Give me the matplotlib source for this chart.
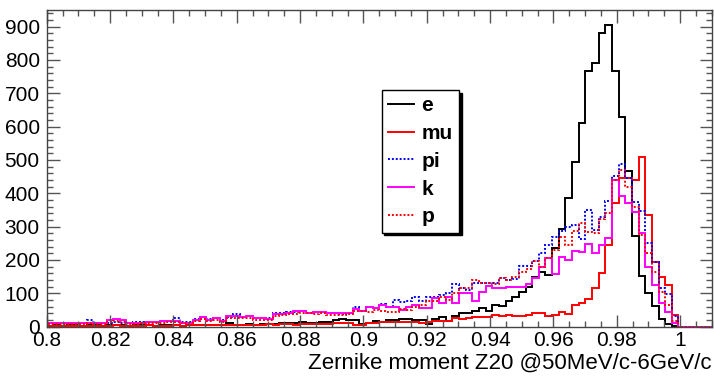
import numpy as np
import matplotlib
matplotlib.use("Agg")
import matplotlib.pyplot as plt
from matplotlib.ticker import MultipleLocator

plt.rcParams['font.family'] = ['Liberation Sans', 'DejaVu Sans']

# histogram binning
x_lo, x_hi, n_bins = 0.8, 1.01, 100

# bin contents
e_counts = [3, 4, 3, 5, 4, 3, 4, 5, 3, 4, 5, 4, 3, 4, 5, 4, 3, 4,
            4, 4, 3, 5, 4, 6, 5, 4, 6, 10, 6, 5, 7, 6, 8, 7, 8, 10, 10,
            12, 15, 10, 10, 15, 15, 20, 22, 20, 20, 8, 12, 18, 15, 20, 20, 22, 22,
            20, 20, 8, 22, 28, 18, 32, 40, 40, 48, 55, 48, 65, 62, 78, 90, 105, 118, 150, 163,
            155, 235, 292, 385, 495, 610, 768, 790, 880, 905, 768, 628, 468, 272, 152, 100,
            62, 22, 8, 3, 0, 0, 0, 0, 0]
mu_counts = [2, 3, 2, 3, 3, 2, 3, 2, 3, 3, 4, 3, 2, 3, 3, 4, 3, 3,
             3, 4, 3, 4, 4, 5, 4, 5, 5, 6, 5, 6, 5, 6, 6, 7, 6, 8, 7,
             5, 8, 8, 8, 8, 8, 10, 10, 10, 5, 5, 12, 12, 15, 15, 15, 15, 15,
             14, 12, 13, 18, 18, 18, 25, 22, 25, 28, 28, 28, 35, 32, 35, 32, 32, 35, 40, 40,
             32, 35, 45, 38, 66, 70, 84, 115, 160, 245, 370, 445, 445, 440, 510, 335,
             195, 150, 125, 35, 0, 0, 0, 0, 0]
pi_counts = [12, 12, 10, 10, 12, 11, 20, 12, 11, 12, 13, 12, 11, 15, 14, 14, 13, 16,
             18, 27, 14, 13, 22, 28, 22, 27, 20, 30, 37, 30, 33, 27, 27, 25, 40, 40, 43,
             45, 48, 42, 45, 45, 42, 40, 38, 42, 58, 48, 58, 55, 68, 58, 80, 75, 78,
             90, 78, 90, 90, 95, 100, 127, 115, 110, 132, 132, 132, 132, 147, 140, 143, 182, 182, 198, 222,
             245, 268, 288, 300, 305, 262, 350, 290, 330, 378, 452, 488, 445, 375, 348, 250,
             195, 115, 98, 32, 0, 0, 0, 0, 0]
k_counts = [12, 12, 12, 11, 10, 12, 12, 11, 10, 20, 22, 20, 12, 12, 12, 14, 15, 17,
            17, 17, 12, 12, 20, 30, 20, 25, 18, 32, 32, 30, 32, 25, 25, 22, 38, 38, 42,
            47, 47, 42, 45, 45, 40, 40, 40, 40, 52, 48, 60, 55, 65, 58, 58, 50, 58,
            65, 55, 55, 85, 72, 88, 72, 100, 100, 78, 105, 122, 115, 115, 118, 120, 118, 128, 145, 180,
            205, 158, 210, 200, 228, 225, 248, 222, 245, 265, 440, 393, 372, 345, 280, 180,
            125, 70, 45, 10, 0, 0, 0, 0, 0]
p_counts = [8, 9, 9, 8, 7, 9, 10, 9, 8, 15, 17, 14, 9, 9, 10, 11, 12, 12,
            13, 14, 10, 10, 16, 24, 16, 20, 15, 26, 27, 25, 27, 20, 21, 19, 33, 34, 37,
            38, 40, 40, 38, 40, 36, 35, 35, 38, 48, 48, 45, 50, 48, 45, 45, 52, 50,
            60, 65, 78, 78, 90, 80, 100, 115, 115, 140, 130, 130, 128, 145, 140, 150, 165, 172, 198, 178,
            205, 230, 270, 245, 288, 310, 285, 282, 322, 340, 440, 470, 420, 360, 275, 220,
            165, 105, 65, 18, 0, 0, 0, 0, 0]

labels = ["e", "mu", "pi", "k", "p"]
colors = ["black", "#ff0000", "#0000ff", "#ff00ff", "#ff0000"]
styles = ["-", "-", (0, (1, 1)), "-", (0, (1, 1))]

edges = np.linspace(x_lo, x_hi, n_bins + 1)

fig = plt.figure(figsize=(7.14, 3.76), dpi=100)
ax = fig.add_axes([0.0654, 0.1316, 0.9314, 0.8418])

for counts, lab, col, ls in zip([e_counts, mu_counts, pi_counts, k_counts, p_counts],
                                labels, colors, styles):
    ax.stairs(counts, edges, baseline=0, color=col, linestyle=ls, linewidth=1.4, label=lab)

ax.set_xlim(x_lo, x_hi)
ax.set_ylim(0, 950)
ax.xaxis.set_major_locator(MultipleLocator(0.02))
ax.xaxis.set_minor_locator(MultipleLocator(0.005))
ax.yaxis.set_major_locator(MultipleLocator(100))
ax.yaxis.set_minor_locator(MultipleLocator(20))
ax.xaxis.set_major_formatter(plt.FuncFormatter(lambda v, p: f"{v:g}"))
ax.tick_params(which="both", direction="in", top=True, right=True, labelsize=15, color="#555555")
ax.tick_params(which="major", length=9, width=1)
ax.tick_params(which="minor", length=4.5, width=1)
ax.tick_params(axis="x", pad=3)
ax.tick_params(axis="y", pad=5)
for sp in ax.spines.values():
    sp.set_color("#444444")
    sp.set_linewidth(1)

ax.set_xlabel("Zernike moment Z20 @50MeV/c-6GeV/c", fontsize=16, loc="right", labelpad=2)

leg = ax.legend(loc="upper left", bbox_to_anchor=(0.5346, 0.7606), bbox_transform=fig.transFigure,
                borderaxespad=0, fancybox=False, edgecolor="black", framealpha=1,
                shadow={"color": "black", "alpha": 1}, prop={"weight": "bold", "size": 15},
                handlelength=1.25, handletextpad=0.35, labelspacing=0.42, borderpad=0.3)
leg.get_frame().set_linewidth(1)

fig.savefig("out.png", dpi=100)
